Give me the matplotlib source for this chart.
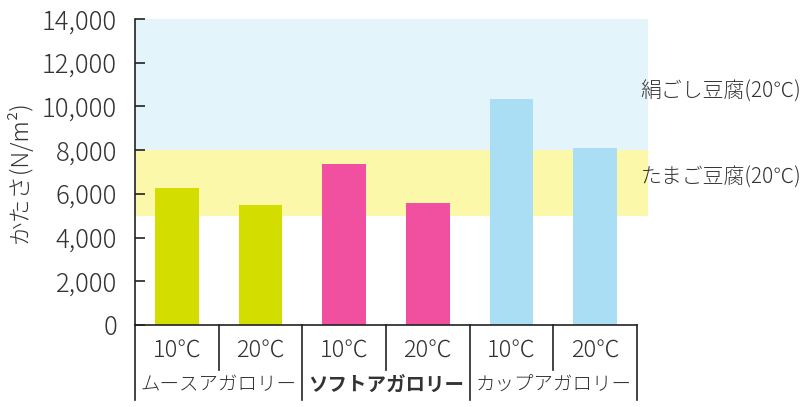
import matplotlib
matplotlib.use("Agg")
import matplotlib.pyplot as plt
import matplotlib.transforms as mtransforms
from matplotlib.ticker import FuncFormatter

plt.rcParams["font.family"] = ["Noto Sans CJK JP", "DejaVu Sans"]

# data
GROUPS = ["ムースアガロリー", "ソフトアガロリー", "カップアガロリー"]
TEMPS = ["10℃", "20℃"]
VALUES = [6250, 5500, 7350, 5580, 10340, 8100]
BAR_COLORS = ["#d3de00", "#d3de00", "#f150a1", "#f150a1", "#a9def5", "#a9def5"]
BANDS = [(8000, 14000, "#e3f5fa", "絹ごし豆腐(20℃)", 10650),
         (5000, 8000, "#fbf8a9", "たまご豆腐(20℃)", 6720)]
TEXT_COLOR = "#333333"

fig = plt.figure(figsize=(8.08, 4.07), dpi=100)
ax = fig.add_axes([135 / 808, 82 / 407, 513 / 808, 306 / 407])
n = len(VALUES)
xmax = n * 513 / 502
ax.set_xlim(0, xmax)
ax.set_ylim(0, 14000)

for lo, hi, col, label, ylab in BANDS:
    ax.axhspan(lo, hi, color=col, lw=0, zorder=0)
    ax.text(6.045, ylab, label, ha="left", va="center", fontsize=15,
            color=TEXT_COLOR, clip_on=False, fontweight="light")

xs = [i + 0.5 for i in range(n)]
ax.bar(xs, VALUES, width=0.52, color=BAR_COLORS, zorder=2)

for s in ["top", "right"]:
    ax.spines[s].set_visible(False)
ax.spines["bottom"].set_bounds(0, n)
for s in ["left", "bottom"]:
    ax.spines[s].set_color("#222222")
    ax.spines[s].set_linewidth(1.2)

ax.set_yticks(range(0, 14001, 2000))
ax.yaxis.set_major_formatter(FuncFormatter(lambda v, _: f"{int(v):,}"))
ax.tick_params(axis="y", direction="in", length=7, width=1.2, pad=13,
               labelsize=18.5, labelcolor=TEXT_COLOR, color="#222222")
for t in ax.get_yticklabels():
    t.set_fontweight("light")
ax.set_xticks([])
ax.set_ylabel("かたさ(N/m²)", fontsize=17, color=TEXT_COLOR, fontweight="light")
ax.yaxis.set_label_coords(-0.2, 0.5)

# category rows under the axis
tr = mtransforms.blended_transform_factory(ax.transData, ax.transAxes)
for i in range(n + 1):
    depth = -0.245 if i % 2 == 0 else -0.147
    ax.plot([i, i], [0, depth], color="#222222", lw=1.2, transform=tr,
            clip_on=False)
for i in range(n):
    ax.text(i + 0.5, -0.085, TEMPS[i % 2], ha="center", va="center",
            fontsize=17, color=TEXT_COLOR, transform=tr, fontweight="light")
for g, name in enumerate(GROUPS):
    ax.text(2 * g + 1, -0.196, name, ha="center", va="center", fontsize=14,
            color=TEXT_COLOR, transform=tr,
            fontweight="bold" if g == 1 else "light")

fig.savefig("out.png", dpi=100)
